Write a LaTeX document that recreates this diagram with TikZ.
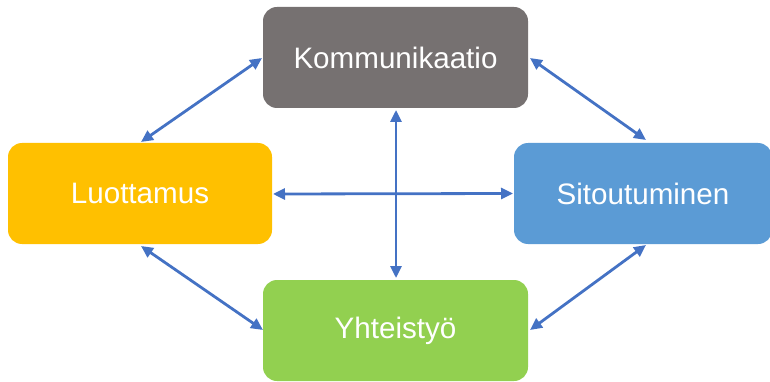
\documentclass[tikz,border=0pt]{standalone}
\usepackage{fontspec}
\setmainfont{Liberation Sans}
\usetikzlibrary{arrows.meta}
\definecolor{kgray}{HTML}{767171}
\definecolor{kyellow}{HTML}{FFC000}
\definecolor{kblue}{HTML}{5B9BD5}
\definecolor{kgreen}{HTML}{92D050}
\definecolor{karrow}{HTML}{4472C4}
\begin{document}
\begin{tikzpicture}[x=1pt,y=-1pt,
  boxtext/.style={text=white, font=\fontsize{29.6}{34}\selectfont},
  conn/.style={draw=karrow, line width=2.8pt, {Triangle[length=12pt,width=11pt]}-{Triangle[length=12pt,width=11pt]}}]
\useasboundingbox (0,0) rectangle (770,382);
\clip (0,0) rectangle (770,382);
\fill[kgray, rounded corners=14pt] (263,7) rectangle (528,108);
\node[boxtext] (k) at (395.5,57.5) {Kommunikaatio};
\fill[kyellow, rounded corners=14pt] (8,143) rectangle (272,244);
\node[boxtext] (l) at (140,193.5) {Luottamus};
\fill[kblue, rounded corners=14pt] (514,143) rectangle (772,244);
\node[boxtext] (s) at (643,193.5) {Sitoutuminen};
\fill[kgreen, rounded corners=14pt] (263,280) rectangle (528,381);
\node[boxtext] (y) at (395.5,330.5) {Yhteistyö};
\coordinate (kL) at (262,58);
\coordinate (kR) at (530,58);
\coordinate (kB) at (396,110);
\coordinate (lT) at (141,142);
\coordinate (lB) at (141,246);
\coordinate (lR) at (273,194);
\coordinate (sT) at (646,140);
\coordinate (sB) at (646,245);
\coordinate (sL) at (513,193.5);
\coordinate (yL) at (263,330);
\coordinate (yR) at (530,330);
\coordinate (yT) at (396,278);
\draw[conn] (lT) -- (kL);
\draw[conn] (kR) -- (sT);
\draw[conn] (lB) -- (yL);
\draw[conn] (sB) -- (yR);
\draw[conn] (lR) -- (sL);
\draw[conn] (kB) -- (yT);
\end{tikzpicture}
\end{document}
